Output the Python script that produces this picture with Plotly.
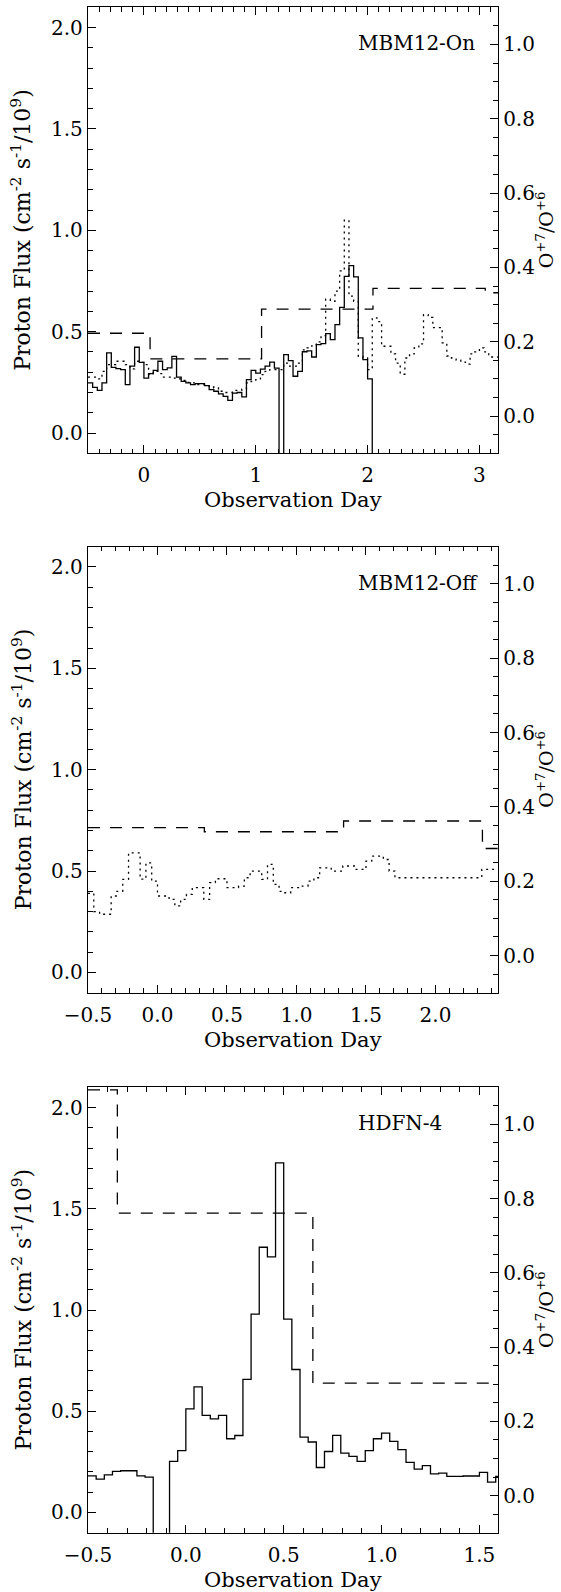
import numpy as np
import plotly.graph_objects as go

BIN_DAYS = 1.0 / 24.0   # hourly averages
MISSING = -1.0          # fill value (no data) -> drawn down to the axis

# ---------------- Panel 1 : MBM12-On ----------------
p1_label = "MBM12-On"
p1_xrange = [-0.5, 3.166]
p1_start = -0.5
p1_flux_solid = [0.247, 0.225, 0.21, 0.247, 0.395, 0.324, 0.318, 0.313, 0.239, 0.33,
                 0.423, 0.349, 0.271, 0.293, 0.309, 0.354, 0.313, 0.321, 0.378, 0.276,
                 0.255, 0.247, 0.239, 0.244, 0.244, 0.234, 0.214, 0.206, 0.193, 0.181,
                 0.161, 0.197, 0.2, 0.178, 0.263, 0.309, 0.295, 0.315, 0.33, 0.35,
                 0.32, MISSING, 0.387, 0.357, 0.28, 0.304, 0.401, 0.405, 0.375, 0.436,
                 0.441, 0.49, 0.461, 0.535, 0.62, 0.773, 0.826, 0.77, 0.469, 0.362,
                 0.267, MISSING]
p1_flux_dotted = [0.276, 0.276, 0.267, 0.304, 0.337, 0.337, 0.354, 0.354, 0.337, 0.316,
                  0.354, 0.349, 0.337, 0.288, 0.304, 0.293, 0.276, 0.276, 0.271, 0.267,
                  0.26, 0.25, 0.247, 0.239, 0.239, 0.234, 0.227, 0.222, 0.206, 0.2,
                  0.2, 0.21, 0.21, 0.217, 0.247, 0.255, 0.263, 0.288, 0.304, 0.313,
                  0.313, 0.313, 0.345, 0.33, 0.33, 0.345, 0.41, 0.42, 0.43, 0.45,
                  0.48, 0.66, 0.65, 0.70, 0.80, 1.05, 0.675, 0.65, 0.378, 0.37,
                  0.313, 0.568, 0.55, 0.428, 0.428, 0.39, 0.345, 0.29, 0.37, 0.39,
                  0.42, 0.44, 0.584, 0.57, 0.52, 0.52, 0.445, 0.38, 0.37, 0.36,
                  0.35, 0.34, 0.39, 0.40, 0.42, 0.40, 0.375, 0.375]
p1_ratio_edges = [-0.5, 0.055, 1.052, 2.048, 3.052, 3.166]
p1_ratio = [0.223, 0.154, 0.288, 0.344, 0.332]

# ---------------- Panel 2 : MBM12-Off ----------------
p2_label = "MBM12-Off"
p2_xrange = [-0.5, 2.45]
p2_start = -0.5
p2_flux_dotted = [0.39, 0.30, 0.287, 0.287, 0.377, 0.40, 0.459, 0.59, 0.59, 0.46,
                  0.54, 0.45, 0.377, 0.377, 0.36, 0.328, 0.36, 0.385, 0.418, 0.418,
                  0.36, 0.443, 0.462, 0.462, 0.418, 0.418, 0.426, 0.467, 0.50, 0.50,
                  0.459, 0.533, 0.434, 0.40, 0.393, 0.418, 0.418, 0.426, 0.45, 0.467,
                  0.516, 0.516, 0.50, 0.50, 0.525, 0.525, 0.508, 0.508, 0.549, 0.574,
                  0.574, 0.557, 0.50, 0.467, 0.467, 0.467, 0.467, 0.467, 0.467, 0.467,
                  0.467, 0.467, 0.467, 0.467, 0.467, 0.467, 0.467, 0.467, 0.508, 0.508,
                  0.508]
p2_ratio_edges = [-0.5, 0.337, 1.339, 2.338, 2.45]
p2_ratio = [0.344, 0.333, 0.362, 0.288]

# ---------------- Panel 3 : HDFN-4 ----------------
p3_label = "HDFN-4"
p3_xrange = [-0.5, 1.595]
p3_start = -0.5
p3_flux_solid = [0.181, 0.165, 0.186, 0.203, 0.206, 0.206, 0.181, 0.175, MISSING, MISSING,
                 0.252, 0.305, 0.512, 0.62, 0.48, 0.462, 0.48, 0.364, 0.38, 0.657,
                 0.98, 1.31, 1.262, 1.727, 0.955, 0.706, 0.372, 0.348, 0.222, 0.301,
                 0.381, 0.293, 0.277, 0.252, 0.305, 0.364, 0.392, 0.351, 0.31, 0.247,
                 0.214, 0.231, 0.191, 0.194, 0.178, 0.178, 0.18, 0.18, 0.198, 0.15,
                 0.178]
p3_ratio_edges = [-0.5, -0.35, 0.649, 1.595]
p3_ratio = [1.093, 0.761, 0.303]

x_title = "Observation Day"
y_left_title = "Proton Flux (cm<sup>-2</sup> s<sup>-1</sup>/10<sup>9</sup>)"
y_right_title = "O<sup>+7</sup>/O<sup>+6</sup>"
left_range = [-0.1, 2.1]
right_range = [-0.1, 1.1]

# ---------------- layout geometry (pixels) ----------------
W, H = 561, 1592
ML, MR = 88, 63
panel_px = [(7.3, 453.3), (546.7, 992.7), (1087.3, 1532.7)]
FONT = "DejaVu Serif"
FS = 20


def fy(py):
    return 1 - py / H


def fx(px):
    return (px - ML) / (W - ML - MR)


def hist_xy(start, vals):
    x = start + np.arange(len(vals) + 1) * BIN_DAYS
    y = list(vals) + [vals[-1]]
    return x, y


def ratio_xy(edges, vals):
    return list(edges), list(vals) + [vals[-1]]


fig = go.Figure()
LW = 1.3
panels = [
    dict(label=p1_label, xr=p1_xrange, solid=(p1_start, p1_flux_solid),
         dotted=(p1_start, p1_flux_dotted), ratio=(p1_ratio_edges, p1_ratio), dtick=1, fmt="d"),
    dict(label=p2_label, xr=p2_xrange, solid=None,
         dotted=(p2_start, p2_flux_dotted), ratio=(p2_ratio_edges, p2_ratio), dtick=0.5, fmt=".1f"),
    dict(label=p3_label, xr=p3_xrange, solid=(p3_start, p3_flux_solid),
         dotted=None, ratio=(p3_ratio_edges, p3_ratio), dtick=0.5, fmt=".1f"),
]

layout = dict(
    width=W, height=H, margin=dict(l=ML, r=MR, t=0, b=0),
    paper_bgcolor="white", plot_bgcolor="white", showlegend=False,
    font=dict(family=FONT, size=FS, color="black"),
)
annotations = []
tickfont = dict(family=FONT, size=FS, color="black")

for k, p in enumerate(panels):
    xa = "x" if k == 0 else f"x{k+1}"
    yl = "y" if k == 0 else f"y{k+1}"
    yr = f"y{k+4}"
    top, bot = panel_px[k]
    dom = [fy(bot), fy(top)]

    if p["dotted"] is not None:
        x, y = hist_xy(*p["dotted"])
        fig.add_trace(go.Scatter(x=x, y=y, mode="lines", line_shape="hv",
                                 line=dict(color="black", width=LW, dash="2px,4px"),
                                 xaxis=xa, yaxis=yl))
    if p["solid"] is not None:
        x, y = hist_xy(*p["solid"])
        fig.add_trace(go.Scatter(x=x, y=y, mode="lines", line_shape="hv",
                                 line=dict(color="black", width=LW),
                                 xaxis=xa, yaxis=yl))
    x, y = ratio_xy(*p["ratio"])
    fig.add_trace(go.Scatter(x=x, y=y, mode="lines", line_shape="hv",
                             line=dict(color="black", width=LW, dash="12px,10px"),
                             xaxis=xa, yaxis=yr))

    common = dict(showline=True, linecolor="black", linewidth=1.3, ticks="inside",
                  ticklen=8, tickwidth=1, tickcolor="black", showgrid=False,
                  zeroline=False, tickfont=tickfont, automargin=False)
    layout["xaxis" if k == 0 else f"xaxis{k+1}"] = dict(
        common, domain=[0, 1], range=p["xr"], anchor=yl, tickmode="linear",
        tick0=0, dtick=p["dtick"], tickformat=p["fmt"], mirror="ticks",
        minor=dict(dtick=0.1, tick0=0, ticks="inside", ticklen=4.5, tickcolor="black"),
        ticklabelstandoff=4)
    layout["yaxis" if k == 0 else f"yaxis{k+1}"] = dict(
        common, domain=dom, range=left_range, anchor=xa, tickmode="linear",
        tick0=0, dtick=0.5, tickformat=".1f",
        minor=dict(dtick=0.1, tick0=0, ticks="inside", ticklen=4.5, tickcolor="black"))
    layout[f"yaxis{k+4}"] = dict(
        common, domain=dom, range=right_range, anchor=xa, overlaying=yl, side="right",
        tickmode="linear", tick0=0, dtick=0.2, tickformat=".1f",
        minor=dict(dtick=0.05, tick0=0, ticks="inside", ticklen=4.5, tickcolor="black"))

    annotations.append(dict(text=p["label"], xref="paper", yref="paper",
                            x=fx(356), y=fy(top + 36), xanchor="left", yanchor="middle",
                            showarrow=False, font=dict(family=FONT, size=FS)))
    mid = (top + bot) / 2
    annotations.append(dict(text=y_left_title, xref="paper", yref="paper",
                            x=fx(21.5), y=fy(mid), xanchor="center", yanchor="middle",
                            textangle=-90, showarrow=False, font=dict(family=FONT, size=22)))
    annotations.append(dict(text=y_right_title, xref="paper", yref="paper",
                            x=fx(545), y=fy(mid), xanchor="center", yanchor="middle",
                            textangle=-90, showarrow=False, font=dict(family=FONT, size=19)))
    annotations.append(dict(text=x_title, xref="paper", yref="paper",
                            x=fx(293), y=fy(bot + 47), xanchor="center", yanchor="middle",
                            showarrow=False, font=dict(family=FONT, size=21)))

layout["annotations"] = annotations
fig.update_layout(**layout)
fig.write_html("out.html")
